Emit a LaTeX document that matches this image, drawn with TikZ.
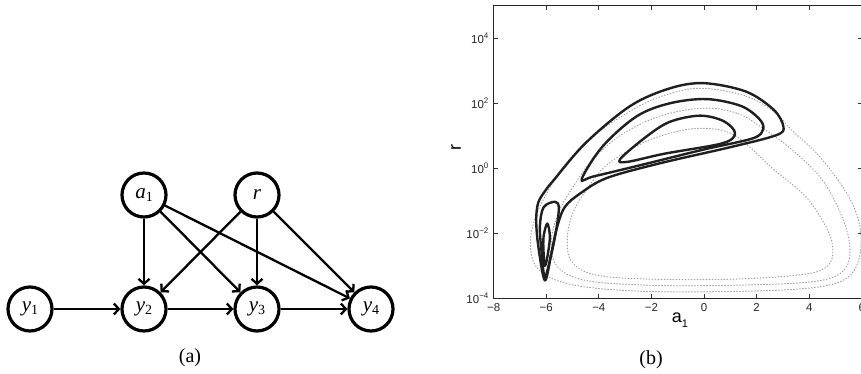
\documentclass[tikz,border=0pt]{standalone}
\usepackage{fontspec}
\setmainfont{Liberation Serif}
\newfontfamily\plotfont{Liberation Sans}
\usetikzlibrary{positioning,arrows.meta}

\newcommand{\vlabel}[2]{\textit{#1}\raisebox{-3pt}{\fontsize{14}{14}\selectfont #2}}
\newcommand{\tenexp}[1]{10\raisebox{5pt}{\fontsize{8}{8}\selectfont #1}}

\tikzset{
  var/.style={circle, draw, line width=3.2pt, minimum size=44pt, inner sep=0pt,
    font=\fontsize{21}{24}\selectfont},
  dep/.style={line width=2.3pt, -{Straight Barb[length=5pt,width=11pt]}},
  lvl/.style={line width=2.4pt, draw=black!88, line join=round},
  mlvl/.style={line width=1pt, draw=black!38, dash pattern=on 0.8pt off 2.2pt, line cap=round},
  tick/.style={line width=0.9pt, draw=black!80},
  ticklab/.style={font=\plotfont\fontsize{11.5}{12}\selectfont, inner sep=0pt, text=black!85}
}

\begin{document}
\begin{tikzpicture}[x=1pt,y=1pt]
    \useasboundingbox (0,0) rectangle (861,373);

    % (a) the model
    \node[var] (Y1) at (30,64) {\vlabel{y}{1}};
    \node[var] (Y2) at (144,64) {\vlabel{y}{2}};
    \node[var] (Y3) at (257,64) {\vlabel{y}{3}};
    \node[var] (Y4) at (371,64) {\vlabel{y}{4}};
    \node[var] (A1) at (144,178) {\vlabel{a}{1}};
    \node[var] (R) at (257,178) {\textit{r}};
    \path[dep]
    (Y1) edge (Y2)
    (Y2) edge (Y3)
    (Y3) edge (Y4)
    (A1) edge (Y2)
    (A1) edge (Y3)
    (A1) edge (Y4)
    (R) edge (Y2)
    (R) edge (Y3)
    (R) edge (Y4);
    \node[font=\fontsize{20}{22}\selectfont] (capa) at (190,15) {(a)};

    % (b) the posterior, axes in a_1 and log10 r
    \begin{scope}[shift={(704,204.7)}, x=26.3pt, y=32.5pt]
      % dotted contours
      \draw[mlvl] plot[smooth cycle, tension=0.6] coordinates {
        (0,2.46) (1.6,2.22) (2.7,1.72) (3.3,1.2) (4.4,0.36) (5.5,-0.87)
        (5.95,-1.9) (5.85,-2.9) (5.2,-3.48) (3.5,-3.72) (0,-3.8) (-3,-3.76)
        (-5.2,-3.55) (-6.3,-3.1) (-6.6,-2.4) (-6.45,-1.6) (-6.0,-0.8)
        (-5.3,0.1) (-4.2,1.0) (-2.5,1.9) (-1.2,2.32)};
      \draw[mlvl] plot[smooth cycle, tension=0.6] coordinates {
        (0,1.85) (1.3,1.68) (2.2,1.25) (3.3,0.6) (4.5,-0.36) (5.3,-1.6)
        (5.55,-2.6) (5.2,-3.22) (4,-3.5) (1,-3.6) (-2,-3.6) (-4.5,-3.45)
        (-5.6,-3.0) (-5.8,-2.2) (-5.5,-1.3) (-5.0,-0.6) (-4.3,0.2)
        (-3.2,1.0) (-1.7,1.6)};
      \draw[mlvl] plot[smooth cycle, tension=0.6] coordinates {
        (0,1.23) (1.2,1.0) (2.6,0.0) (3.9,-0.9) (4.7,-1.9) (4.9,-2.55)
        (4.7,-3.0) (3.9,-3.25) (1.5,-3.4) (-1.5,-3.42) (-4,-3.3) (-5.0,-2.9)
        (-5.2,-2.2) (-5.0,-1.4) (-4.5,-0.7) (-3.7,0.1) (-2.4,0.75) (-1.2,1.1)};
      % solid contours
      \draw[lvl] plot[smooth cycle, tension=0.55] coordinates {
        (-6.05,-3.45) (-6.3,-2.4) (-6.38,-1.6) (-6.3,-1.05) (-6.0,-0.65)
        (-5.75,-0.4) (-4.5,0.78) (-2.8,1.92) (-1.3,2.46) (0,2.62) (1.6,2.36)
        (2.65,1.8) (3.02,1.28) (2.75,1.02) (1.0,0.65) (-1.7,0.15) (-3.7,-0.3)
        (-4.7,-0.77) (-5.3,-1.2) (-5.6,-1.85) (-5.8,-2.6)};
      \draw[lvl] plot[smooth cycle, tension=0.55] coordinates {
        (-4.65,-0.33) (-3.85,0.68) (-2.56,1.6) (-1.3,2.0) (0.1,2.13)
        (1.4,1.92) (2.1,1.52) (2.25,1.2) (1.85,0.92) (0,0.58) (-2.5,0.08)
        (-4.2,-0.25)};
      \draw[lvl] plot[smooth cycle, tension=0.55] coordinates {
        (-3.19,0.28) (-2.2,0.97) (-1.3,1.43) (-0.15,1.62) (0.75,1.45)
        (1.18,1.08) (0.7,0.77) (-1.5,0.45) (-2.9,0.2)};
      \draw[lvl] plot[smooth cycle, tension=0.55] coordinates {
        (-5.67,-1.03) (-5.52,-1.2) (-5.6,-1.8) (-5.8,-2.62) (-6.05,-3.34)
        (-6.17,-2.62) (-6.24,-1.8) (-6.1,-1.2)};
      \draw[lvl] plot[smooth cycle, tension=0.55] coordinates {
        (-5.96,-1.7) (-5.86,-2.1) (-5.95,-2.7) (-6.05,-3.0) (-6.1,-2.6)
        (-6.1,-2.1)};

      % axes box and ticks
      \draw[line width=1.4pt, draw=black!85] (6,5) -- (-8,5) -- (-8,-4) -- (6,-4);
      \foreach \a in {-8,-6,...,6} {
        \draw[tick] (\a,-4) -- ++(0,4pt);
        \draw[tick] (\a,5) -- ++(0,-4pt);
        \node[ticklab, anchor=north] at ([yshift=-5pt]\a,-4)
          {\ifnum\a<0 −\the\numexpr-\a\relax\else\a\fi};
      }
      \foreach \e in {-4,-2,...,4} {
        \draw[tick] (-8,\e) -- ++(4pt,0);
        \draw[tick] (6,\e) -- ++(-4pt,0);
        \node[ticklab, anchor=base east] at ([xshift=-5pt,yshift=-5pt]-8,\e)
          {\tenexp{\ifnum\e<0 −\the\numexpr-\e\relax\else\e\fi}};
      }
    \end{scope}
    \node[font=\plotfont\fontsize{18}{18}\selectfont, rotate=90] (rlab) at (456,225) {r};
    \node[font=\plotfont\fontsize{18}{18}\selectfont] (alab) at (680,53)
      {a\raisebox{-5pt}{\fontsize{11}{11}\selectfont 1}};
    \node[font=\fontsize{20}{22}\selectfont] (capb) at (651,13) {(b)};
\end{tikzpicture}
\end{document}
